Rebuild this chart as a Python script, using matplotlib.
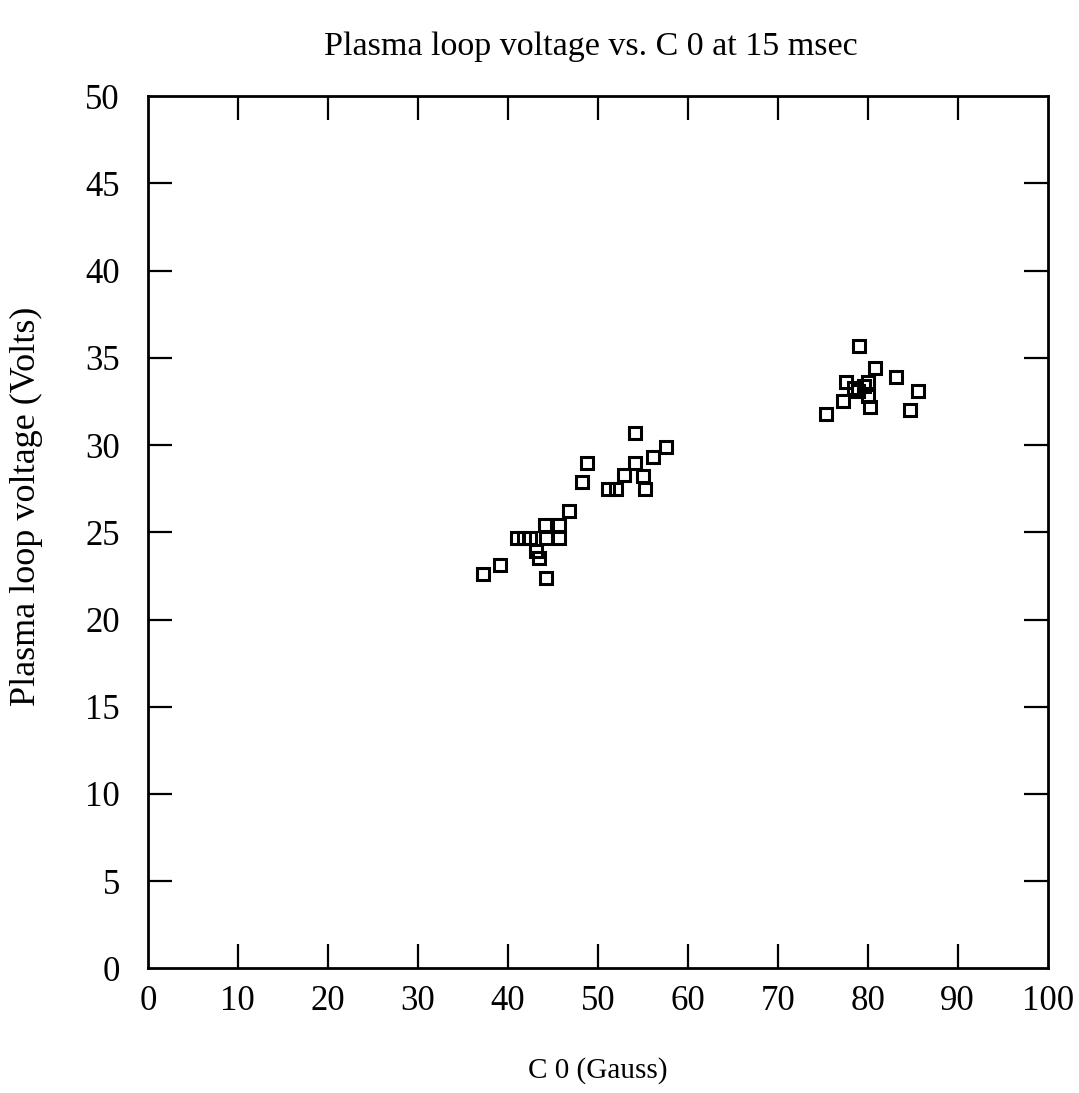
import matplotlib
matplotlib.use("Agg")
import matplotlib.pyplot as plt

# C0 field (Gauss) and plasma loop voltage (Volts)
c0_low = [37.3, 39.1, 41.0, 41.8, 42.5, 43.1, 43.5, 44.2, 44.1, 44.2, 45.7, 45.7,
          46.8, 48.3, 48.8, 51.1, 52.0, 52.9, 54.1, 54.1, 55.0, 55.3, 56.1, 57.6]
volt_low = [22.6, 23.1, 24.7, 24.7, 24.7, 23.9, 23.5, 22.4, 25.4, 24.7, 25.4, 24.7,
            26.2, 27.9, 29.0, 27.5, 27.5, 28.3, 29.0, 30.7, 28.2, 27.5, 29.3, 29.9]

c0_high = [75.4, 77.2, 77.6, 78.5, 78.9, 79.0, 79.6, 80.0, 80.0, 80.2, 80.8,
           83.1, 84.7, 85.6]
volt_high = [31.8, 32.5, 33.6, 33.3, 33.1, 35.7, 33.4, 33.6, 32.8, 32.2, 34.4,
             33.9, 32.0, 33.1]

x_ticks = [0, 10, 20, 30, 40, 50, 60, 70, 80, 90, 100]
y_ticks = [0, 5, 10, 15, 20, 25, 30, 35, 40, 45, 50]

plt.rcParams['font.family'] = ['Liberation Serif', 'DejaVu Serif']

fig = plt.figure(figsize=(10.79, 10.93), dpi=100)
ax = fig.add_axes([0.137, 0.114, 0.834, 0.798])

ax.plot(c0_low + c0_high, volt_low + volt_high, 's', markersize=9,
        markerfacecolor='none', markeredgecolor='black', markeredgewidth=2.2)

ax.set_xlim(0, 100)
ax.set_ylim(0, 50)
ax.set_xticks(x_ticks)
ax.set_yticks(y_ticks)
ax.tick_params(direction='in', length=17, width=1.6, top=True, right=True,
               labelsize=25, color='black')
ax.tick_params(axis='x', pad=12)
ax.tick_params(axis='y', pad=20)
# no tick marks at the corners
for t in [ax.xaxis.get_major_ticks()[0], ax.xaxis.get_major_ticks()[-1],
          ax.yaxis.get_major_ticks()[0], ax.yaxis.get_major_ticks()[-1]]:
    t.tick1line.set_visible(False)
    t.tick2line.set_visible(False)
for s in ax.spines.values():
    s.set_linewidth(2)

ax.set_title('Plasma loop voltage vs. C 0 at 15 msec', fontsize=24.5, pad=30, x=0.492)
ax.set_xlabel('C 0 (Gauss)', fontsize=21, labelpad=28)
ax.set_ylabel('Plasma loop voltage (Volts)', fontsize=26)
ax.yaxis.set_label_coords(-0.117, 0.53)

fig.savefig('out.png', dpi=100)
